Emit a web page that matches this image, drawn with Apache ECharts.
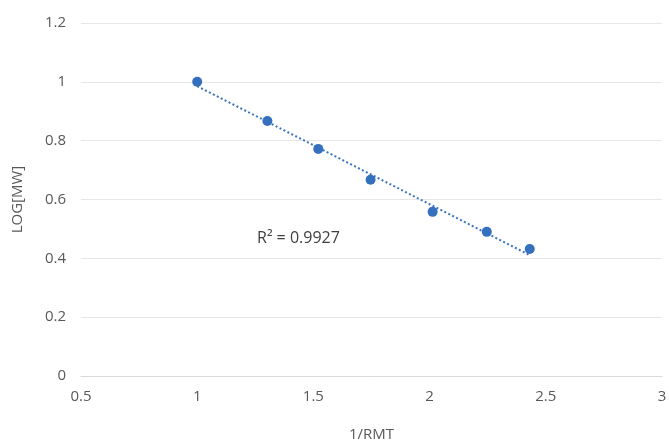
<!DOCTYPE html>
<html><head><meta charset="utf-8">
<script src="https://cdn.jsdelivr.net/npm/echarts@6/dist/echarts.min.js"></script>
<style>html,body{margin:0;padding:0;background:#fff}#c{width:669px;height:441px}</style>
</head><body><div id="c"></div>
<script>
const xValues = [1.0, 1.302, 1.521, 1.746, 2.013, 2.246, 2.431];
const yValues = [1.0, 0.867, 0.772, 0.667, 0.558, 0.490, 0.432];
const xTicks = [0.5, 1, 1.5, 2, 2.5, 3];
const yTicks = [0, 0.2, 0.4, 0.6, 0.8, 1, 1.2];
const r2Label = 'R² = 0.9927';

// linear least-squares trendline from the data
const n = xValues.length;
const mx = xValues.reduce((a,b)=>a+b,0)/n, my = yValues.reduce((a,b)=>a+b,0)/n;
let sxy=0, sxx=0;
for (let i=0;i<n;i++){sxy+=(xValues[i]-mx)*(yValues[i]-my);sxx+=(xValues[i]-mx)**2;}
const slope = sxy/sxx, icpt = my - slope*mx;
const xMin = Math.min(...xValues), xMax = Math.max(...xValues);
const trend = [[xMin, icpt+slope*xMin],[xMax, icpt+slope*xMax]];

const font = '"Open Sans", "Noto Sans", sans-serif';
const chart = echarts.init(document.getElementById('c'), null, {renderer:'canvas'});
chart.setOption({
  animation:false,
  grid:{left:81,right:7,top:23,bottom:65,containLabel:false,outerBoundsMode:'none'},
  xAxis:{type:'value',min:0.5,max:3,interval:0.5,
    name:'1/RMT',nameLocation:'middle',nameGap:51,
    nameTextStyle:{color:'#595959',fontSize:15,fontFamily:font},
    axisLine:{show:true,lineStyle:{color:'#d9d9d9',width:1}},
    axisTick:{show:false},splitLine:{show:false},
    axisLabel:{color:'#595959',fontSize:15,fontFamily:font,margin:13,
      formatter:v=>String(v)}},
  yAxis:{type:'value',min:0,max:1.2,interval:0.2,
    name:'LOG[MW]',nameLocation:'middle',nameGap:56,
    nameTextStyle:{color:'#595959',fontSize:15,fontFamily:font},
    axisLine:{show:false},axisTick:{show:false},
    splitLine:{lineStyle:{color:'#e6e6e6',width:1}},
    axisLabel:{color:'#595959',fontSize:15,fontFamily:font,margin:15,
      formatter:v=>String(Math.round(v*10)/10)}},
  series:[
    {type:'line',data:trend,symbol:'none',silent:true,z:1,
      lineStyle:{color:'#3B72BF',width:2,type:[2,2.4]}},
    {type:'scatter',data:xValues.map((x,i)=>[x,yValues[i]]),symbolSize:10,z:2,
      itemStyle:{color:'#3570BF',opacity:1}}
  ],
  graphic:[{type:'text',left:257,top:230,
    style:{text:r2Label,fill:'#404040',fontSize:16,fontFamily:font}}]
});
</script></body></html>
